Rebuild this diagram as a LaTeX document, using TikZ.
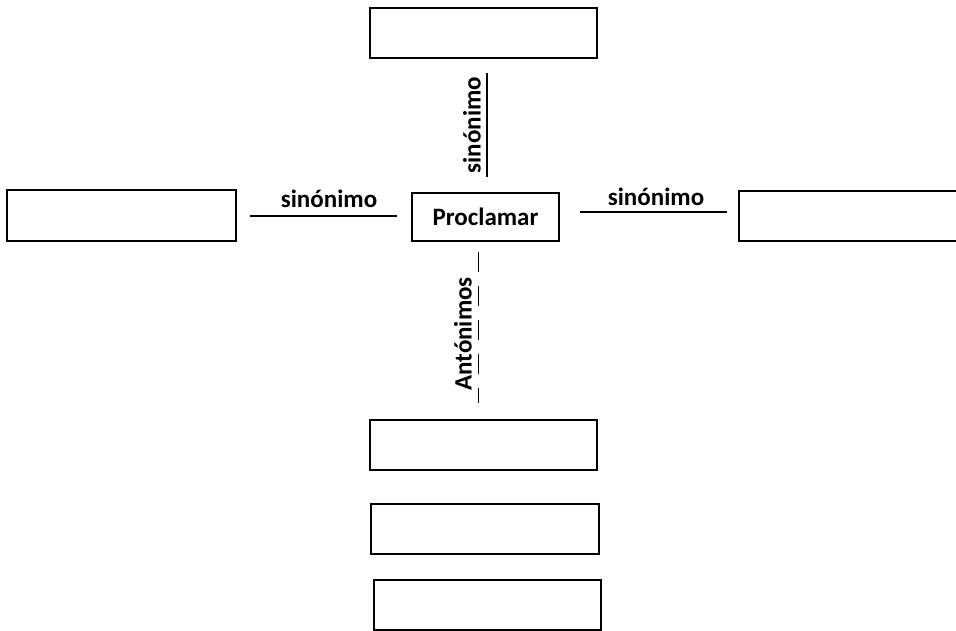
\documentclass[tikz,border=0pt]{standalone}
\usepackage{fontspec}
\setmainfont{Carlito}
\begin{document}
\begin{tikzpicture}[x=1pt,y=-1pt,
  box/.style={draw, line width=1.8pt, inner sep=0pt},
  conn/.style={line width=1.8pt},
  lbl/.style={font=\fontsize{25}{28}\selectfont\bfseries, inner sep=0pt, anchor=center}]
\useasboundingbox (0,0) rectangle (956,631);
\node[box, minimum width=227pt, minimum height=50pt] (top) at (483.5,33) {};
\node[box, minimum width=147pt, minimum height=48pt, font=\fontsize{25}{28}\selectfont\bfseries] (ctr) at (485.5,217) {Proclamar};
\node[box, minimum width=229pt, minimum height=51pt] (left) at (121.5,215.5) {};
\node[box, minimum width=231pt, minimum height=50pt] (right) at (854.5,216) {};
\node[box, minimum width=227pt, minimum height=50pt] (b1) at (483.5,445) {};
\node[box, minimum width=228pt, minimum height=50pt] (b2) at (485,529) {};
\node[box, minimum width=227pt, minimum height=50pt] (b3) at (487.5,605) {};
\coordinate (t1) at (487,73);
\coordinate (t2) at (487,177);
\coordinate (l1) at (250,216);
\coordinate (l2) at (397,216);
\coordinate (r1) at (580,212);
\coordinate (r2) at (727,212);
\coordinate (d1) at (478.5,252);
\coordinate (d2) at (478.5,403);
\draw[conn] (t1) -- (t2);
\draw[conn] (l1) -- (l2);
\draw[conn] (r1) -- (r2);
\draw[conn, dash pattern=on 20pt off 14pt] (d1) -- (d2);
\node[lbl, rotate=90] (ts) at (472,125) {sinónimo};
\node[lbl] (ls) at (329,199) {sinónimo};
\node[lbl] (rs) at (656,197) {sinónimo};
\node[lbl, rotate=90] (ant) at (463,334) {Antónimos};
\end{tikzpicture}
\end{document}
